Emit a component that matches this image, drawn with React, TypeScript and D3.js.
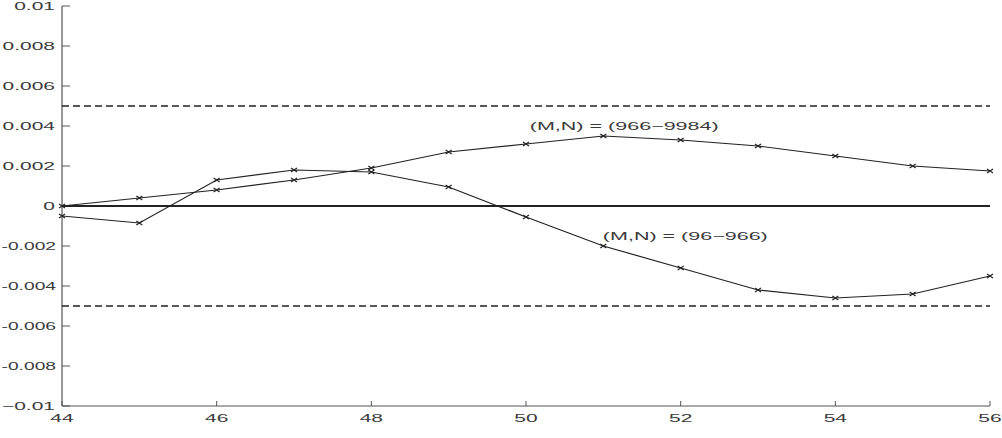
import React from 'react';
import * as d3 from 'd3';

const xValues = [44, 45, 46, 47, 48, 49, 50, 51, 52, 53, 54, 55, 56];
// (M,N) = (96-966)
const seriesLow = [-0.0005, -0.00085, 0.0013, 0.0018, 0.0017, 0.00095, -0.00055, -0.002, -0.0031, -0.0042, -0.0046, -0.0044, -0.0035];
// (M,N) = (966-9984)
const seriesHigh = [0, 0.0004, 0.0008, 0.0013, 0.0019, 0.0027, 0.0031, 0.0035, 0.0033, 0.003, 0.0025, 0.002, 0.00175];
const xTicks = [44, 46, 48, 50, 52, 54, 56];
const yTicks = [-0.01, -0.008, -0.006, -0.004, -0.002, 0, 0.002, 0.004, 0.006, 0.008, 0.01];
const limits = [0.005, -0.005];
const labels = [
  { text: '(M,N) = (966\u22129984)', x: 51.27, y: 0.0038 },
  { text: '(M,N) = (96\u2212966)', x: 52.06, y: -0.0017 },
];

const width = 1002;
const height = 438;
const left = 62;
const right = 990;
const top = 6;
const bottom = 406;
const sx = 2.0; // glyphs are stretched horizontally in the reference

const fmt = (v: number) => {
  if (v === 0) return '0';
  const s = d3.format('~g')(Math.abs(v));
  return (v < 0 ? (v === -0.01 ? '\u2212' : '-') : '') + s;
};

export default () => {
  const x = d3.scaleLinear().domain([44, 56]).range([left, right]);
  const y = d3.scaleLinear().domain([-0.01, 0.01]).range([bottom, top]);

  const line = d3.line<number>()
    .x((_, i) => x(xValues[i]))
    .y(d => y(d));

  const textStyle = { fontFamily: 'Liberation Sans, Arial, sans-serif', fontSize: 10.5, fill: '#3a3a3a' };
  const marker = 'M-3,-2L3,2M-3,2L3,-2';

  return (
    <div style={{ position: 'absolute', left: 0, top: 0 }}>
      <svg width={width} height={height} style={{ display: 'block', background: '#fff' }}>
        {/* axes */}
        <line x1={left} y1={top} x2={left} y2={bottom} stroke="#555" strokeWidth={1.2} />
        <line x1={left} y1={bottom} x2={right} y2={bottom} stroke="#555" strokeWidth={1.2} />
        {yTicks.map(t => {
          const tooLong = t < 0 && t > -0.01;
          return (
            <g key={'y' + t}>
              <line x1={left} x2={left + 8} y1={y(t)} y2={y(t)} stroke="#555" />
              <text
                transform={`translate(${left - (tooLong ? 6 : 7)},${y(t) + 4}) scale(${tooLong ? 1.83 : sx},1)`}
                textAnchor="end"
                style={textStyle}
              >
                {fmt(t)}
              </text>
            </g>
          );
        })}
        {xTicks.map(t => (
          <g key={'x' + t}>
            <line x1={x(t)} x2={x(t)} y1={bottom} y2={bottom - 5} stroke="#555" />
            <text
              transform={`translate(${x(t)},${bottom + 16}) scale(${sx},1)`}
              textAnchor="middle"
              style={textStyle}
            >
              {t}
            </text>
          </g>
        ))}

        {/* reference lines */}
        <line x1={left} x2={right} y1={y(0)} y2={y(0)} stroke="#222" strokeWidth={2} />
        {limits.map(l => (
          <line key={l} x1={left} x2={right} y1={y(l)} y2={y(l)} stroke="#222" strokeWidth={1.5} strokeDasharray="7,4" />
        ))}

        {/* series */}
        {[seriesLow, seriesHigh].map((s, k) => (
          <g key={k}>
            <path d={line(s) || ''} fill="none" stroke="#222" strokeWidth={1.2} />
            {s.map((v, i) => (
              <path key={i} d={marker} transform={`translate(${x(xValues[i])},${y(v)})`} stroke="#222" strokeWidth={1.2} fill="none" />
            ))}
          </g>
        ))}

        {labels.map(l => (
          <text
            key={l.text}
            transform={`translate(${x(l.x)},${y(l.y)}) scale(2.05,1)`}
            textAnchor="middle"
            style={textStyle}
          >
            {l.text}
          </text>
        ))}
      </svg>
    </div>
  );
};
